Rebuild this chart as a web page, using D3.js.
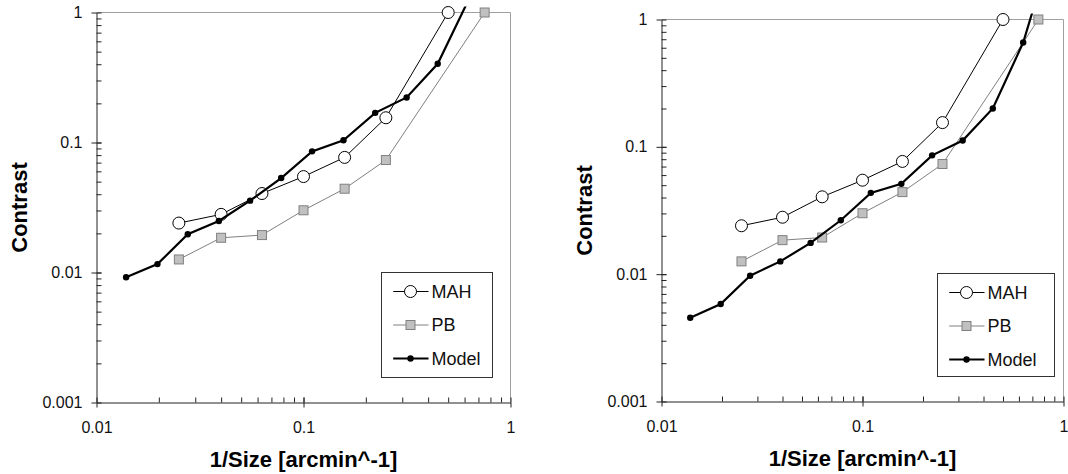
<!DOCTYPE html>
<html>
<head>
<meta charset="utf-8">
<script src="https://cdn.jsdelivr.net/npm/d3@7"></script>
<style>
  body { margin: 0; background: #fff; }
  svg { display: block; font-family: "Liberation Sans", Arial, sans-serif; }
</style>
</head>
<body>
<svg id="chart" width="1068" height="474"></svg>
<script>
// DATA
const seriesNames = ["MAH", "PB", "Model"]
const mahX = [0.025, 0.04, 0.063, 0.1, 0.158, 0.25, 0.5]
const mahY = [0.024, 0.028, 0.0405, 0.0547, 0.0768, 0.155, 1]
const pbX = [0.025, 0.04, 0.063, 0.1, 0.158, 0.25, 0.75]
const pbY = [0.0126, 0.0185, 0.0194, 0.0301, 0.0441, 0.0733, 1]
const modelX = [0.0139, 0.0197, 0.0276, 0.039, 0.0552, 0.078, 0.110, 0.156, 0.222, 0.315, 0.445, 0.63, 0.89]
const modelLeftY = [0.0092, 0.0116, 0.0197, 0.0249, 0.0357, 0.0533, 0.0855, 0.104, 0.169, 0.222, 0.403, 1.27]
const modelRightY = [0.00455, 0.00583, 0.00973, 0.0126, 0.0176, 0.0265, 0.0435, 0.0512, 0.0857, 0.112, 0.2, 0.659, 4]
const xTickLabels = ["0.01", "0.1", "1"]
const yTickLabels = ["0.001", "0.01", "0.1", "1"]
const xTitle = "1/Size [arcmin^-1]"
const yTitle = "Contrast"

const zip = (xs, ys) => ys.map((y, i) => ({ x: xs[i], y }))

const svg = d3.select("#chart")

const drawPanel = (id, dims, modelY) => {
  const xScale = d3.scaleLog()
    .domain([0.01, 1])
    .range([dims.left, dims.right])
  const yScale = d3.scaleLog()
    .domain([0.001, 1])
    .range([dims.bottom, dims.top])

  const xMajor = xTickLabels.map(Number)
  const yMajor = yTickLabels.map(Number)
  const minor = domain => {
    const out = []
    for (let d = domain[0]; d < domain[1] * 0.999; d *= 10) {
      for (let k = 1; k <= 10; k++) out.push(d * k)
    }
    return out
  }

  const g = svg.append("g").attr("id", id)

  // plot frame (top / right in grey)
  g.append("path")
    .attr("d", `M${dims.left},${dims.top}H${dims.right}V${dims.bottom}`)
    .attr("fill", "none")
    .attr("stroke", "#a0a0a0")
    .attr("stroke-width", 1)

  // inside minor + major ticks
  g.append("g")
    .attr("transform", `translate(${dims.left},0)`)
    .call(d3.axisRight(yScale).tickValues(minor(yScale.domain())).tickSize(5).tickSizeOuter(0).tickFormat(""))
    .call(a => a.select(".domain").remove())
  g.append("g")
    .attr("transform", `translate(0,${dims.bottom})`)
    .call(d3.axisTop(xScale).tickValues(minor(xScale.domain())).tickSize(5).tickSizeOuter(0).tickFormat(""))
    .call(a => a.select(".domain").remove())

  // outside major ticks with labels
  g.append("g")
    .attr("class", "y-axis")
    .attr("transform", `translate(${dims.left},0)`)
    .call(d3.axisLeft(yScale).tickValues(yMajor).tickSize(5).tickSizeOuter(0).tickPadding(9)
      .tickFormat((d, i) => yTickLabels[i]))
  g.append("g")
    .attr("class", "x-axis")
    .attr("transform", `translate(0,${dims.bottom})`)
    .call(d3.axisBottom(xScale).tickValues(xMajor).tickSize(5).tickSizeOuter(0).tickPadding(14)
      .tickFormat((d, i) => xTickLabels[i]))

  g.selectAll(".tick line, .domain").attr("stroke", "#222")
  g.selectAll(".tick text")
    .attr("font-size", 16)
    .attr("font-family", "Liberation Sans, Arial, sans-serif")
    .attr("fill", "#111")

  // axis titles
  g.append("text")
    .attr("transform", `translate(${dims.left - 77},${(dims.top + dims.bottom) / 2}) rotate(-90)`)
    .attr("text-anchor", "middle")
    .attr("dominant-baseline", "central")
    .attr("font-size", 22)
    .attr("font-weight", "bold")
    .text(yTitle)
  g.append("text")
    .attr("x", (dims.left + dims.right) / 2)
    .attr("y", dims.bottom + 64)
    .attr("text-anchor", "middle")
    .attr("font-size", 22)
    .attr("font-weight", "bold")
    .text(xTitle)

  // clip: lines may poke a little above the plot
  const clipId = id + "-clip"
  g.append("clipPath").attr("id", clipId)
    .append("rect")
    .attr("x", dims.left)
    .attr("y", dims.top - 6)
    .attr("width", dims.right - dims.left + 10)
    .attr("height", dims.bottom - dims.top + 6)

  const line = d3.line()
    .x(d => xScale(d.x))
    .y(d => yScale(d.y))

  const mah = zip(mahX, mahY)
  const pb = zip(pbX, pbY)
  const model = zip(modelX, modelY)

  // PB
  g.append("path")
    .datum(pb)
    .attr("d", line)
    .attr("fill", "none")
    .attr("stroke", "#808080")
    .attr("stroke-width", 1)
  g.append("g")
    .selectAll("rect")
    .data(pb)
    .join("rect")
      .attr("x", d => xScale(d.x) - 4.5)
      .attr("y", d => yScale(d.y) - 4.5)
      .attr("width", 9)
      .attr("height", 9)
      .attr("fill", "#c0c0c0")
      .attr("stroke", "#808080")

  // MAH
  g.append("path")
    .datum(mah)
    .attr("d", line)
    .attr("fill", "none")
    .attr("stroke", "#000")
    .attr("stroke-width", 1)
  g.append("g")
    .selectAll("circle")
    .data(mah)
    .join("circle")
      .attr("cx", d => xScale(d.x))
      .attr("cy", d => yScale(d.y))
      .attr("r", 6)
      .attr("fill", "#fff")
      .attr("stroke", "#000")

  // Model
  const modelG = g.append("g").attr("clip-path", `url(#${clipId})`)
  modelG.append("path")
    .datum(model)
    .attr("d", line)
    .attr("fill", "none")
    .attr("stroke", "#000")
    .attr("stroke-width", 2.2)
  modelG.selectAll("circle")
    .data(model)
    .join("circle")
      .attr("cx", d => xScale(d.x))
      .attr("cy", d => yScale(d.y))
      .attr("r", 3.2)
      .attr("fill", "#000")

  // LEGEND
  const lg = g.append("g")
    .attr("transform", `translate(${dims.legend.x},${dims.legend.y})`)
  lg.append("rect")
    .attr("width", dims.legend.w)
    .attr("height", dims.legend.h)
    .attr("fill", "#fff")
    .attr("stroke", "#333")
  const rows = lg.selectAll("g")
    .data(seriesNames)
    .join("g")
      .attr("transform", (d, i) => `translate(0,${19 + i * 33.5})`)
  rows.append("line")
    .attr("x1", 11.7)
    .attr("x2", 47)
    .attr("stroke", (d, i) => ["#000", "#808080", "#000"][i])
    .attr("stroke-width", (d, i) => i === 2 ? 2.2 : 1)
  rows.filter((d, i) => i === 0).append("circle")
    .attr("cx", 29).attr("r", 6).attr("fill", "#fff").attr("stroke", "#000")
  rows.filter((d, i) => i === 1).append("rect")
    .attr("x", 24.5).attr("y", -4.5).attr("width", 9).attr("height", 9)
    .attr("fill", "#c0c0c0").attr("stroke", "#808080")
  rows.filter((d, i) => i === 2).append("circle")
    .attr("cx", 29).attr("r", 3.2).attr("fill", "#000")
  rows.append("text")
    .attr("x", 50)
    .attr("dominant-baseline", "central")
    .attr("font-size", 18)
    .attr("fill", "#111")
    .text(d => d)
}

drawPanel("left", {
  left: 96.5, right: 510.5, top: 12.5, bottom: 402.5,
  legend: { x: 381.5, y: 272.5, w: 111, h: 105 },
}, modelLeftY)

drawPanel("right", {
  left: 661.5, right: 1063.5, top: 19.5, bottom: 401.5,
  legend: { x: 937.5, y: 273.5, w: 117, h: 103 },
}, modelRightY)
</script>
</body>
</html>
